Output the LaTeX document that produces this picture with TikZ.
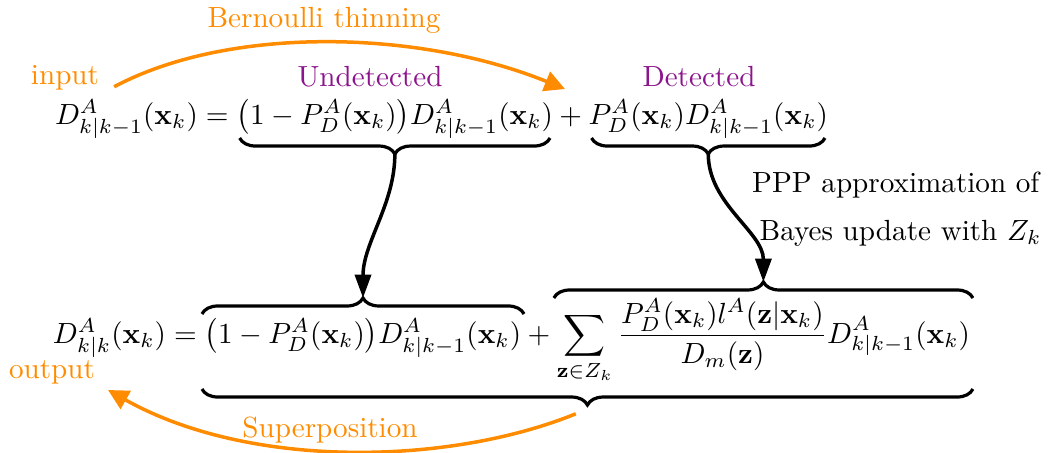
\documentclass[tikz,border=0pt]{standalone}
\usepackage{amsmath}
\usetikzlibrary{decorations.pathreplacing,calc,arrows.meta}
\definecolor{myorange}{RGB}{255,140,0}
\definecolor{mypurple}{RGB}{140,20,140}
\begin{document}
\begin{tikzpicture}[x=0.343pt,y=-0.343pt,
 eq/.style={inner sep=0pt, outer sep=0pt, anchor=base west},
 brc/.style={decorate, decoration={brace, amplitude=5.5pt}, line width=1.1pt},
 orlab/.style={text=myorange, inner sep=1pt},
 pulab/.style={text=mypurple, inner sep=0pt},
 oarrow/.style={draw=myorange, line width=1.2pt, -{Triangle[length=7pt,width=7pt]}},
 barrow/.style={draw=black, line width=1.2pt, -{Triangle[length=8pt,width=5.5pt]}},
 txt/.style={inner sep=0pt, anchor=base east}]
\useasboundingbox (0,0) rectangle (1055,452);
% top equation
\node[eq] (L1) at (55,124) {$D^A_{k|k-1}(\mathbf{x}_k) = {}$};
\node[eq] (U1) at (L1.base east) {$\bigl(1-P^A_D(\mathbf{x}_k)\bigr)D^A_{k|k-1}(\mathbf{x}_k)$};
\node[eq] (P1) at (U1.base east) {${}+{}$};
\node[eq] (T1) at (P1.base east) {$P^A_D(\mathbf{x}_k)D^A_{k|k-1}(\mathbf{x}_k)$};
% bottom equation
\node[eq] (L2) at (53,343) {$D^A_{k|k}(\mathbf{x}_k) = {}$};
\node[eq] (U2) at (L2.base east) {$\bigl(1-P^A_D(\mathbf{x}_k)\bigr)D^A_{k|k-1}(\mathbf{x}_k)$};
\node[eq] (P2) at (U2.base east) {${}+{}$};
\node[eq] (S2) at (P2.base east) {$\displaystyle\sum_{\mathbf{z}\in Z_k}\frac{P^A_D(\mathbf{x}_k)l^A(\mathbf{z}|\mathbf{x}_k)}{D_m(\mathbf{z})}D^A_{k|k-1}(\mathbf{x}_k)$};
% labels
\node[orlab] (bern) at (324,20) {Bernoulli thinning};
\node[orlab] (in) at (65,78) {input};
\node[pulab] (und) at (370,77) {Undetected};
\node[pulab] (det) at (699,77) {Detected};
\node[txt] (ppp) at (1040,192) {PPP approximation of};
\node[txt] (bay) at (1042,240) {Bayes update with $Z_k$};
\node[orlab] (out) at (52,372) {output};
\node[orlab] (sup) at (330,430) {Superposition};
% brace levels
\coordinate (yU1) at (0,138);
\coordinate (yU2) at (0,314);
\coordinate (yS2) at (0,298);
\coordinate (yB) at (0,389);
% braces
\draw[brc] ([xshift=-1pt]U1.east |- yU1) -- node[coordinate, midway, below=5.5pt] (tU1) {} ([xshift=1pt]U1.west |- yU1);
\draw[brc] ([xshift=-1pt]T1.east |- yU1) -- node[coordinate, midway, below=5.5pt] (tT1) {} ([xshift=1pt]T1.west |- yU1);
\draw[brc] ([xshift=-1pt]U2.west |- yU2) -- node[coordinate, midway, above=5.5pt] (tU2) {} ([xshift=1pt]U2.east |- yU2);
\draw[brc] ([xshift=-1pt]S2.west |- yS2) -- node[coordinate, midway, above=5.5pt] (tS2) {} ([xshift=1pt]S2.east |- yS2);
\draw[brc] ([xshift=1pt]S2.east |- yB) -- node[coordinate, midway, below=5.5pt] (tB) {} ([xshift=-1pt]U2.west |- yB);
% black arrows
\draw[barrow] (tU1) .. controls +(0,50) and +(0,-55) .. (tU2);
\draw[barrow] (tT1) .. controls +(0,50) and +(0,-50) .. (tS2);
% orange arrows
\coordinate (bt) at (565,89);
\coordinate (ot) at (108,390);
\draw[oarrow] ([xshift=4pt,yshift=-3pt]in.east) .. controls (230,25) and (420,30) .. (bt);
\draw[oarrow] ([xshift=-4pt,yshift=-3pt]tB) .. controls (450,465) and (250,470) .. (ot);
\end{tikzpicture}
\end{document}
